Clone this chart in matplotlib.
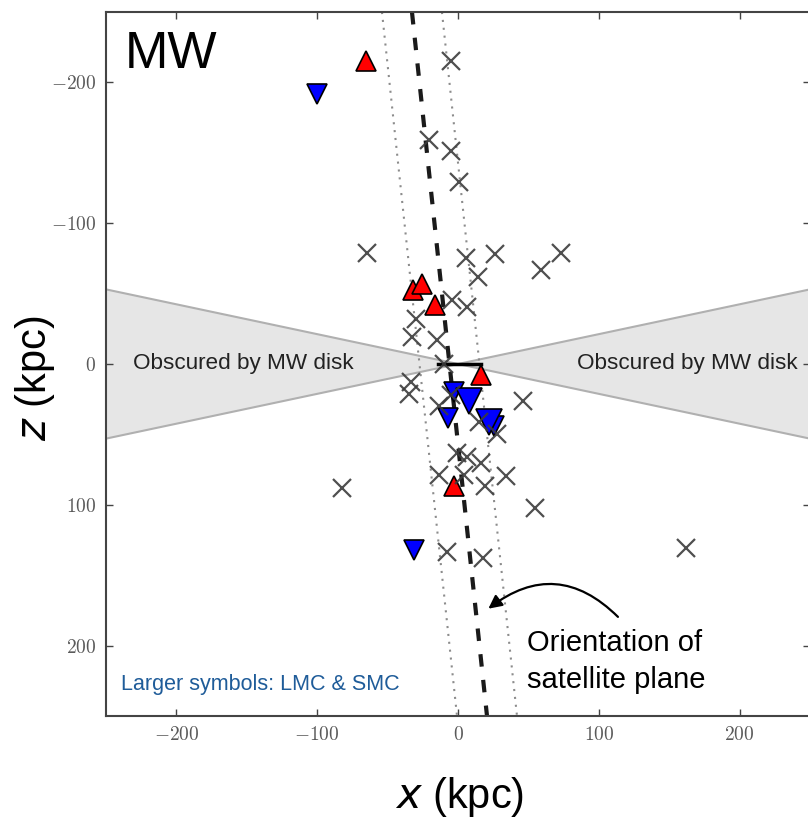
import numpy as np
import matplotlib
matplotlib.use("Agg")
import matplotlib.pyplot as plt

plt.rcParams['font.family'] = ['Liberation Sans', 'DejaVu Sans']
plt.rcParams['mathtext.fontset'] = 'cm'

# satellites (x, z) in kpc
cross_x = [-5, -20.5, -5, 1, -64.5, 5.5, 26.5, 59, 73.5, 14.5, -4, 6.5, -30, -33, -15,
           -10, -33.5, -34.5, -5, -13.5, 46, 15, 28, -0.5, 6.5, 16, -13.5, 4.5, 34, 19,
           54.5, -82.5, -7.5, 17.5, 162]
cross_z = [-215, -159, -151.5, -129, -79, -75.5, -78, -67, -79, -62, -45.5, -40.5, -32, -19.5, -17,
           0, 12.5, 21.5, 22, 30, 26, 41.5, 50, 63, 66, 70.5, 79, 79, 79.5, 86.5,
           102, 88, 133.5, 137.5, 130.5]

red_x = [-65.5, -32, -25.5, -16, 16, -3]
red_z = [-215, -52.5, -57, -42, 8, 87]

blue_x = [-100, -3, -7, 25.5, -31.5]
blue_z = [-192, 20, 38.5, 44, 132]

big_blue_x = [8, 22]   # LMC, SMC
big_blue_z = [26, 41]

# plane orientation and its width
plane_x = [-32.7, 20.6]
plane_z = [-250, 250]
plane_width = 21.3

disk_slope = 0.212
mw_line_x = [-14, 16]
mw_line_z = [0, 0]

ticks = [-200, -100, 0, 100, 200]
tick_labels = [r'$-200$', r'$-100$', r'$0$', r'$100$', r'$200$']

fig = plt.figure(figsize=(8.08, 8.25), dpi=100)
ax = fig.add_axes([106/808, 109/825, 704/808, 704/825])

# obscured wedges
for s in [-1, 1]:
    ax.fill([0, s*300, s*300], [0, -300*disk_slope, 300*disk_slope],
            facecolor='#e6e6e6', edgecolor='#b0b0b0', lw=1.5, zorder=1)

ax.plot(plane_x, plane_z, color='#1a1a1a', lw=3, ls=(0, (3, 3.2)), zorder=2)
for off in [-plane_width, plane_width]:
    ax.plot(np.array(plane_x) + off, plane_z, color='#8c8c8c', lw=1.5,
            ls=(0, (1, 2.8)), zorder=2)
ax.plot(mw_line_x, mw_line_z, color='black', lw=2.5, zorder=3)

ax.plot(red_x, red_z, '^', color='red', ms=15, mec='black', mew=1.2, zorder=4)
ax.plot(blue_x, blue_z, 'v', color='blue', ms=15, mec='black', mew=1.2, zorder=4)
ax.plot(big_blue_x, big_blue_z, 'v', color='blue', ms=18.5, mec='black', mew=1.2, zorder=4)
ax.plot(cross_x, cross_z, 'x', color='#3c3c3c', ms=13, mew=1.6, alpha=0.9, zorder=5)

ax.text(-231, 0, 'Obscured by MW disk', fontsize=16.2, color='#222222', va='center', ha='left', zorder=6)
ax.text(241, 0, 'Obscured by MW disk', fontsize=16.2, color='#222222', va='center', ha='right', zorder=6)
ax.text(-237, -210, 'MW', fontsize=37.5, va='baseline', ha='left')
ax.text(-239, 231.5, 'Larger symbols: LMC & SMC', fontsize=15.5, color='#1f5c99', va='baseline')
ax.text(49, 204, 'Orientation of', fontsize=21, va='baseline')
ax.text(49, 230, 'satellite plane', fontsize=21, va='baseline')
ax.annotate('', xy=(20, 175), xytext=(115, 181),
            arrowprops=dict(arrowstyle='-|>', color='black', lw=1.6, mutation_scale=20,
                            connectionstyle='arc3,rad=0.45'))

ax.set_xlim(-250, 250)
ax.set_ylim(250, -250)
ax.set_xticks(ticks)
ax.set_xticklabels(tick_labels)
ax.set_yticks(ticks)
ax.set_yticklabels(tick_labels)
ax.tick_params(direction='in', length=5, width=1, top=True, right=True,
               labelsize=14, labelcolor='#5a5a5a', color='#444444', pad=7)
for sp in ax.spines.values():
    sp.set_linewidth(1.5)
    sp.set_color('#444444')

fig.text(460/808, 1 - 797/825, r'$x$ (kpc)', fontsize=30, ha='center', va='center',
         math_fontfamily='dejavusans')
fig.text(35/808, 1 - 378/825, r'$z$ (kpc)', fontsize=30, ha='center', va='center', rotation=90,
         math_fontfamily='dejavusans')

fig.savefig('out.png', dpi=100)
